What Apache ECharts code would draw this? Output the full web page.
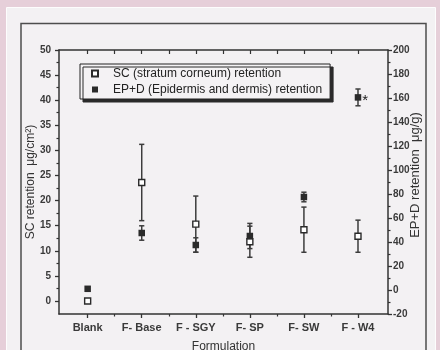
<!DOCTYPE html>
<html>
<head>
<meta charset="utf-8">
<script src="https://cdn.jsdelivr.net/npm/echarts@6/dist/echarts.min.js"></script>
<style>
  html, body { margin: 0; padding: 0; background: #e6cfd9; }
  #retentionChart { width: 440px; height: 350px; }
</style>
</head>
<body>
<div id="retentionChart"></div>
<script>
  // categories and values
  const formulations = ['Blank', 'F- Base', 'F - SGY', 'F- SP', 'F- SW', 'F - W4'];
  const scRetention = [0, 23.6, 15.3, 11.8, 14.2, 12.9];
  const scError = [0, 7.6, 5.6, 3.1, 4.5, 3.2];
  const epdRetention = [1, 47.5, 37.5, 45, 77.5, 160.5];
  const epdError = [0, 6, 6, 10.5, 4, 7];
  const epdMarks = ['', '', '', '', '', '*'];

  const scTicks = [0, 5, 10, 15, 20, 25, 30, 35, 40, 45, 50];
  const scMinorTicks = [2.5, 7.5, 12.5, 17.5, 22.5, 27.5, 32.5, 37.5, 42.5, 47.5];
  const epdMinorTicks = [-10, 10, 30, 50, 70, 90, 110, 130, 150, 170, 190];
  const catTicks = [0, 1, 2, 3, 4, 5];
  const catMinorTicks = [0.5, 1.5, 2.5, 3.5, 4.5];

  const font = "'Liberation Sans', Arial, sans-serif";
  const ink = '#333';

  function errorBar(params, api) {
    let x = api.value(0), y = api.value(1), e = api.value(2);
    if (!e) {
      return {type: 'group', children: []};
    }
    let hi = api.coord([x, y + e]);
    let lo = api.coord([x, y - e]);
    let w = 2.6;
    let st = {stroke: '#3c3c3c', lineWidth: 1.5, fill: null};
    return {
      type: 'group',
      children: [
        {type: 'line', shape: {x1: hi[0], y1: hi[1], x2: lo[0], y2: lo[1]}, style: st},
        {type: 'line', shape: {x1: hi[0] - w, y1: hi[1], x2: hi[0] + w, y2: hi[1]}, style: st},
        {type: 'line', shape: {x1: lo[0] - w, y1: lo[1], x2: lo[0] + w, y2: lo[1]}, style: st}
      ]
    };
  }

  const chart = echarts.init(document.getElementById('retentionChart'));
  const option = {
    animation: false,
    textStyle: {fontFamily: font},
    graphic: [
      {
        type: 'rect', z: -10, silent: true,
        shape: {x: 6.5, y: 7.5, width: 429, height: 360},
        style: {fill: '#f3f1f3', stroke: '#fdfdfd', lineWidth: 1}
      },
      {
        type: 'rect', z: -9, silent: true,
        shape: {x: 21, y: 23.5, width: 405, height: 360},
        style: {fill: null, stroke: '#4d4d4d', lineWidth: 1.5}
      }
    ],
    grid: {left: 59, right: 52, top: 50, bottom: 36, outerBoundsMode: 'none'},
    legend: {
      orient: 'vertical',
      left: 80, top: 64,
      padding: [2, 8, 2, 11],
      itemGap: 1,
      itemWidth: 6, itemHeight: 6,
      icon: 'rect',
      backgroundColor: '#f4f2f4',
      borderColor: '#222', borderWidth: 1,
      shadowColor: '#2a2a2a', shadowBlur: 0, shadowOffsetX: 3, shadowOffsetY: 3,
      textStyle: {fontSize: 12, color: '#222', padding: [0, 0, 0, 10], lineHeight: 15}
    },
    xAxis: [
      {
        type: 'value', position: 'bottom', min: -0.53, max: 5.555,
        axisLine: {show: true, onZero: false, lineStyle: {color: ink, width: 1.5}},
        axisTick: {show: true, inside: false, length: 4, customValues: catTicks, lineStyle: {color: ink, width: 1.3}},
        axisLabel: {
          customValues: catTicks, margin: 8, fontSize: 11, fontWeight: 'bold', color: '#3a3a3a',
          formatter: v => formulations[Math.round(v)]
        },
        splitLine: {show: false},
        name: 'Formulation', nameLocation: 'middle', nameGap: 27, nameMoveOverlap: false,
        nameTextStyle: {fontSize: 12, color: ink}
      },
      {
        type: 'value', position: 'bottom', min: -0.53, max: 5.555,
        axisLine: {show: false, onZero: false},
        axisTick: {show: true, length: 2.5, customValues: catMinorTicks, lineStyle: {color: ink, width: 1.2}},
        axisLabel: {show: false},
        splitLine: {show: false}
      },
      {
        type: 'value', position: 'top', min: -0.53, max: 5.555,
        axisLine: {show: true, onZero: false, lineStyle: {color: ink, width: 1.5}},
        axisTick: {show: true, inside: true, length: 4, customValues: catTicks.concat(catMinorTicks), lineStyle: {color: ink, width: 1.2}},
        axisLabel: {show: false},
        splitLine: {show: false}
      }
    ],
    yAxis: [
      {
        type: 'value', position: 'left', min: -2.6, max: 50,
        axisLine: {show: true, onZero: false, lineStyle: {color: ink, width: 1.5}},
        axisTick: {show: true, length: 4, customValues: scTicks, lineStyle: {color: ink, width: 1.3}},
        axisLabel: {customValues: scTicks, margin: 8, fontSize: 10, fontWeight: 'bold', color: '#3a3a3a'},
        splitLine: {show: false},
        name: 'SC retention  \u03bcg/cm\u00b2)', nameLocation: 'middle', nameGap: 22, nameRotate: 90,
        nameMoveOverlap: false,
        nameTextStyle: {fontSize: 12, color: ink}
      },
      {
        type: 'value', position: 'left', min: -2.6, max: 50,
        axisLine: {show: false, onZero: false},
        axisTick: {show: true, length: 2.5, customValues: scMinorTicks, lineStyle: {color: ink, width: 1.2}},
        axisLabel: {show: false},
        splitLine: {show: false}
      },
      {
        type: 'value', position: 'right', min: -20, max: 200, interval: 20,
        axisLine: {show: true, onZero: false, lineStyle: {color: ink, width: 1.5}},
        axisTick: {show: true, length: 4, lineStyle: {color: ink, width: 1.3}},
        axisLabel: {margin: 5, fontSize: 10, fontWeight: 'bold', color: '#3a3a3a'},
        splitLine: {show: false},
        name: 'EP+D retention  \u03bcg/g)', nameLocation: 'middle', nameGap: 21, nameRotate: 90,
        nameMoveOverlap: false,
        nameTextStyle: {fontSize: 13, color: ink, padding: [0, 0, 0, 14]}
      },
      {
        type: 'value', position: 'right', min: -20, max: 200,
        axisLine: {show: false, onZero: false},
        axisTick: {show: true, length: 2.5, customValues: epdMinorTicks, lineStyle: {color: ink, width: 1.2}},
        axisLabel: {show: false},
        splitLine: {show: false}
      }
    ],
    series: [
      {
        type: 'custom', xAxisIndex: 0, yAxisIndex: 0, renderItem: errorBar, z: 3,
        data: scRetention.map((v, i) => [i, v, scError[i]])
      },
      {
        type: 'custom', xAxisIndex: 0, yAxisIndex: 2, renderItem: errorBar, z: 3,
        data: epdRetention.map((v, i) => [i, v, epdError[i]])
      },
      {
        name: 'SC (stratum corneum) retention',
        type: 'scatter', xAxisIndex: 0, yAxisIndex: 0, z: 5,
        symbol: 'rect', symbolSize: 6,
        itemStyle: {color: '#fff', borderColor: '#2a2a2a', borderWidth: 1.4, opacity: 1},
        data: scRetention.map((v, i) => [i, v])
      },
      {
        name: 'EP+D (Epidermis and dermis) retention',
        type: 'scatter', xAxisIndex: 0, yAxisIndex: 2, z: 5,
        symbol: 'rect', symbolSize: 6.5,
        itemStyle: {color: '#2a2a2a', opacity: 1},
        label: {
          show: true, position: 'right', distance: 1, offset: [0, 3],
          fontSize: 15, color: '#222',
          formatter: p => epdMarks[p.dataIndex]
        },
        data: epdRetention.map((v, i) => [i, v])
      }
    ]
  };
  chart.setOption(option);
</script>
</body>
</html>
